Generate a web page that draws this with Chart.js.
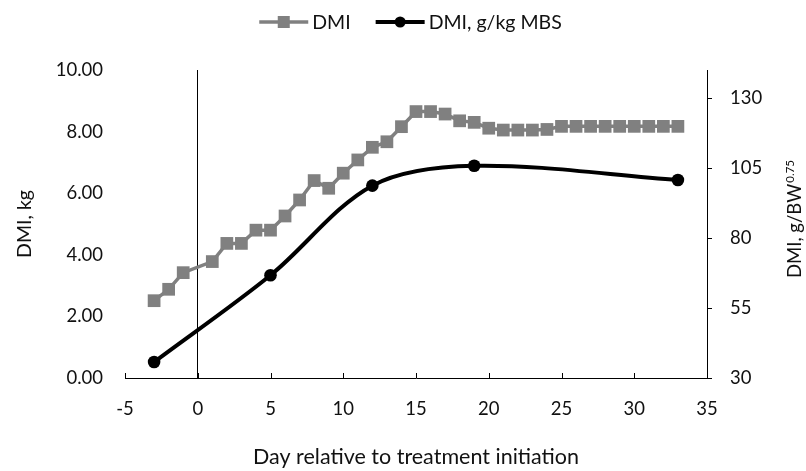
<!DOCTYPE html>
<html><head><meta charset="utf-8">
<script src="https://cdn.jsdelivr.net/npm/chart.js@4.4.0/dist/chart.umd.min.js"></script>
<style>html,body{margin:0;padding:0;background:#fff;overflow:hidden}canvas{display:block}</style>
</head><body>
<canvas id="c" width="806" height="471"></canvas>
<script>
// ---- data ----
const dmiDays = [-3,-2,-1,1,2,3,4,5,6,7,8,9,10,11,12,13,14,15,16,17,18,19,20,21,22,23,24,25,26,27,28,29,30,31,32,33];
const dmiKg   = [2.51,2.88,3.42,3.78,4.37,4.37,4.80,4.80,5.26,5.78,6.41,6.16,6.65,7.08,7.49,7.67,8.16,8.65,8.65,8.57,8.35,8.30,8.11,8.05,8.05,8.05,8.07,8.17,8.17,8.17,8.17,8.17,8.17,8.17,8.17,8.17];
const mbsDays   = [-3,5,12,19,33];
const mbsValues = [35.7,66.7,98.7,105.8,100.7];
const xTicks     = [-5,0,5,10,15,20,25,30,35];
const leftTicks  = [0,2,4,6,8,10];
const rightTicks = [30,55,80,105,130];
const seriesNames = ['DMI','DMI, g/kg MBS'];
const xTitle = 'Day relative to treatment initiation';
const leftTitle = 'DMI, kg';
const rightTitleMain = 'DMI, g/BW';
const rightTitleSup = '0.75';

const FONT = 'Lato';
const TXT = '#111';

const insideTicks = {
  id: 'insideTicks',
  afterDraw(chart) {
    const s = chart.scales.x, ctx = chart.ctx;
    ctx.save();
    ctx.strokeStyle = '#000'; ctx.lineWidth = 1;
    s.ticks.forEach(t => {
      const px = Math.round(s.getPixelForValue(t.value)) + 0.5;
      ctx.beginPath(); ctx.moveTo(px, s.top); ctx.lineTo(px, s.top - 5); ctx.stroke();
    });
    ctx.restore();
  }
};

const customLegend = {
  id: 'customLegend',
  afterDraw(chart) {
    const ctx = chart.ctx;
    ctx.save();
    ctx.font = `19.5px ${FONT}`;
    const sampleW = 49, gapText = 4, gapItem = 25, y = 22;
    const ds = chart.data.datasets;
    const widths = ds.map(d => sampleW + gapText + ctx.measureText(d.label).width);
    const total = widths.reduce((a,b)=>a+b,0) + gapItem*(ds.length-1);
    let x = 410.5 - total/2;
    ds.forEach((d,i) => {
      ctx.strokeStyle = d.borderColor; ctx.lineWidth = d.borderWidth;
      ctx.beginPath(); ctx.moveTo(x, y); ctx.lineTo(x+sampleW, y); ctx.stroke();
      ctx.fillStyle = d.pointBackgroundColor;
      Chart.helpers.drawPoint(ctx, {pointStyle: d.pointStyle, rotation: 0, radius: d.legendRadius, borderWidth: 0}, x+sampleW/2, y);
      ctx.fillStyle = TXT; ctx.textBaseline = 'middle'; ctx.textAlign = 'left';
      ctx.fillText(d.label, x + sampleW + gapText, y + 1);
      x += widths[i] + gapItem;
    });
    ctx.restore();
  }
};

const rightTitle = {
  id: 'rightTitle',
  afterDraw(chart) {
    const ctx = chart.ctx;
    const area = chart.chartArea;
    ctx.save();
    const mainFont = `18.5px ${FONT}`, supFont = `11.5px ${FONT}`;
    ctx.font = mainFont; const wm = ctx.measureText(rightTitleMain).width;
    ctx.font = supFont; const ws = ctx.measureText(rightTitleSup).width;
    const total = wm + ws + 1;
    const cy = (area.top + area.bottom) / 2 - 5;
    ctx.translate(801, cy + total/2);
    ctx.rotate(-Math.PI/2);
    ctx.fillStyle = TXT; ctx.textBaseline = 'alphabetic'; ctx.textAlign = 'left';
    ctx.font = mainFont; ctx.fillText(rightTitleMain, 0, 0);
    ctx.font = supFont; ctx.fillText(rightTitleSup, wm + 1, -7);
    ctx.restore();
  }
};

new Chart(document.getElementById('c'), {
  type: 'line',
  data: {
    datasets: [
      {
        label: seriesNames[0],
        data: dmiDays.map((d,i) => ({x: d, y: dmiKg[i]})),
        yAxisID: 'y',
        borderColor: '#808080', backgroundColor: '#808080',
        pointBackgroundColor: '#808080', pointBorderWidth: 0,
        borderWidth: 3.5, pointStyle: 'rect', pointRadius: 9, legendRadius: 8.5,
        tension: 0, fill: false, order: 2
      },
      {
        label: seriesNames[1],
        data: mbsDays.map((d,i) => ({x: d, y: mbsValues[i]})),
        yAxisID: 'y2',
        borderColor: '#000', backgroundColor: '#000',
        pointBackgroundColor: '#000', pointBorderWidth: 0,
        borderWidth: 4, pointStyle: 'circle', pointRadius: 6.3, legendRadius: 5.5,
        tension: 0.33, cubicInterpolationMode: 'default', fill: false, order: 1
      }
    ]
  },
  options: {
    responsive: false,
    devicePixelRatio: 1,
    animation: false,
    layout: {padding: {top: 70, left: 0, right: 0, bottom: 0}},
    plugins: {legend: {display: false}, tooltip: {enabled: false}},
    scales: {
      x: {
        type: 'linear', min: -5, max: 35,
        afterBuildTicks: s => { s.ticks = xTicks.map(v => ({value: v})); },
        afterFit: s => { s.height = 93; },
        border: {display: true, color: '#000', width: 1},
        grid: {drawTicks: false, lineWidth: 1, color: c => (c.tick && c.tick.value === 0) ? '#000' : 'rgba(0,0,0,0)'},
        ticks: {padding: 20, color: TXT, font: {family: FONT, size: 18.5}, maxRotation: 0},
        title: {display: true, text: xTitle, color: TXT, font: {family: FONT, size: 21.5}, padding: {top: 0, bottom: 1}}
      },
      y: {
        type: 'linear', position: 'left', min: 0, max: 10,
        afterBuildTicks: s => { s.ticks = leftTicks.map(v => ({value: v})); },
        afterFit: s => { s.width = 125; },
        border: {display: false},
        grid: {display: false, drawTicks: false},
        ticks: {padding: 22, color: TXT, font: {family: FONT, size: 18.5}, callback: v => Number(v).toFixed(2)},
        title: {display: true, text: leftTitle, color: TXT, font: {family: FONT, size: 19.5}, padding: {top: 13, bottom: 0}}
      },
      y2: {
        type: 'linear', position: 'right', min: 30, max: 140,
        afterBuildTicks: s => { s.ticks = rightTicks.map(v => ({value: v})); },
        afterFit: s => { s.width = 99; },
        border: {display: true, color: '#000', width: 1},
        grid: {drawOnChartArea: false, drawTicks: true, tickLength: 5, color: '#000', lineWidth: 1},
        ticks: {padding: 18, color: TXT, font: {family: FONT, size: 18.5}}
      }
    }
  },
  plugins: [insideTicks, customLegend, rightTitle]
});
</script>
</body></html>
